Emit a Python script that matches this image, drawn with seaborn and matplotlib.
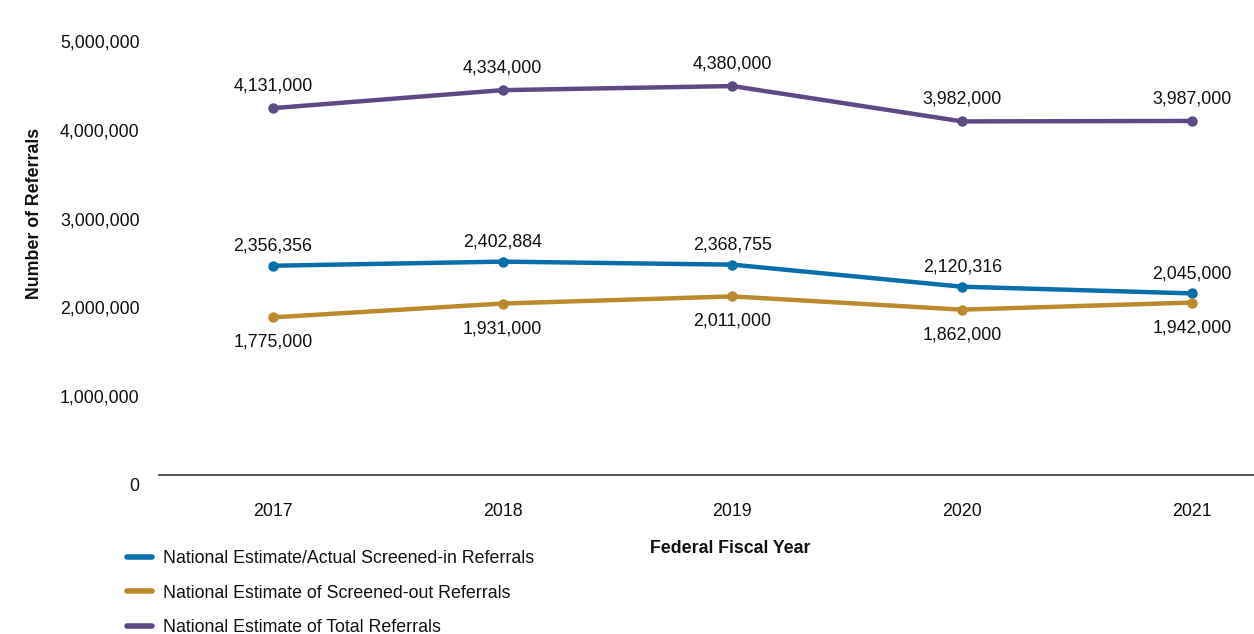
import matplotlib
matplotlib.use("Agg")
import matplotlib.pyplot as plt
import matplotlib.transforms as mtransforms
from matplotlib.ticker import FuncFormatter
import seaborn as sns
import pandas as pd

# Referral counts by federal fiscal year
years = [2017, 2018, 2019, 2020, 2021]
screened_in = [2356356, 2402884, 2368755, 2120316, 2045000]
screened_out = [1775000, 1931000, 2011000, 1862000, 1942000]
total = [4131000, 4334000, 4380000, 3982000, 3987000]

series_names = [
    "National Estimate/Actual Screened-in Referrals",
    "National Estimate of Screened-out Referrals",
    "National Estimate of Total Referrals",
]
series_values = [screened_in, screened_out, total]
series_colors = ["#0A6EAA", "#BA8A2C", "#5D4A85"]
# vertical offset (points) of the value labels relative to each marker
label_offsets = [14, -18, 16]

sns.set_theme(style="white")
plt.rcParams["font.family"] = ["Liberation Sans", "DejaVu Sans"]
plt.rcParams["text.color"] = "#111111"

rows = []
for name, vals in zip(series_names, series_values):
    for y, v in zip(years, vals):
        rows.append({"Year": y, "Referrals": v, "Series": name})
df = pd.DataFrame(rows)

fig = plt.figure(figsize=(12.54, 6.34), dpi=100)
ax = fig.add_axes([0.1268, 0.2508, 0.8732, 0.7003])

sns.lineplot(
    data=df, x="Year", y="Referrals", hue="Series",
    hue_order=series_names, palette=series_colors,
    marker="o", markersize=7.5, markeredgewidth=0,
    linewidth=3.2, ax=ax, legend=True,
)

fs = 12.8
for name, vals, col, off in zip(series_names, series_values, series_colors, label_offsets):
    for y, v in zip(years, vals):
        ax.annotate(f"{v:,}", (y, v), xytext=(0, off), textcoords="offset points",
                    ha="center", va="center", fontsize=fs, color="#111111")

ax.set_xlim(2016.505, 2021.27)
ax.set_ylim(0, 5000000)
ax.set_xticks(years)
ax.set_xticklabels([str(y) for y in years])
ax.set_yticks(range(0, 5000001, 1000000))
ax.yaxis.set_major_formatter(FuncFormatter(lambda v, p: f"{int(v):,}"))
ax.tick_params(axis="x", length=0, pad=20, labelsize=fs, labelcolor="#111111")
ax.tick_params(axis="y", length=0, pad=14, labelsize=fs, labelcolor="#111111")

# y tick labels sit a little below their gridline values
shift = mtransforms.ScaledTranslation(0, -10 / 100, fig.dpi_scale_trans)
for lbl in ax.get_yticklabels():
    lbl.set_transform(lbl.get_transform() + shift)

for side in ["top", "right", "left"]:
    ax.spines[side].set_visible(False)
ax.spines["bottom"].set_color("#333333")
ax.spines["bottom"].set_linewidth(1.2)
ax.grid(False)

ax.set_ylabel("Number of Referrals", fontsize=fs, fontweight="bold", color="#111111")
ax.yaxis.set_label_coords(-0.106, 0.59)
ax.set_xlabel("Federal Fiscal Year", fontsize=fs, fontweight="bold", color="#111111")
ax.xaxis.set_label_coords(0.522, -0.166)
ax.xaxis.label.set_va("center")

handles, labels = ax.get_legend_handles_labels()
ax.get_legend().remove()
for h in handles:
    h.set_marker("")
    h.set_linewidth(4)
fig.legend(handles, labels, loc="center left", bbox_to_anchor=(0.1013, 1 - 593 / 634),
           frameon=False, fontsize=fs, handlelength=1.4, handletextpad=0.62,
           labelspacing=0.98, borderpad=0, borderaxespad=0)

fig.savefig("out.png", dpi=100)
